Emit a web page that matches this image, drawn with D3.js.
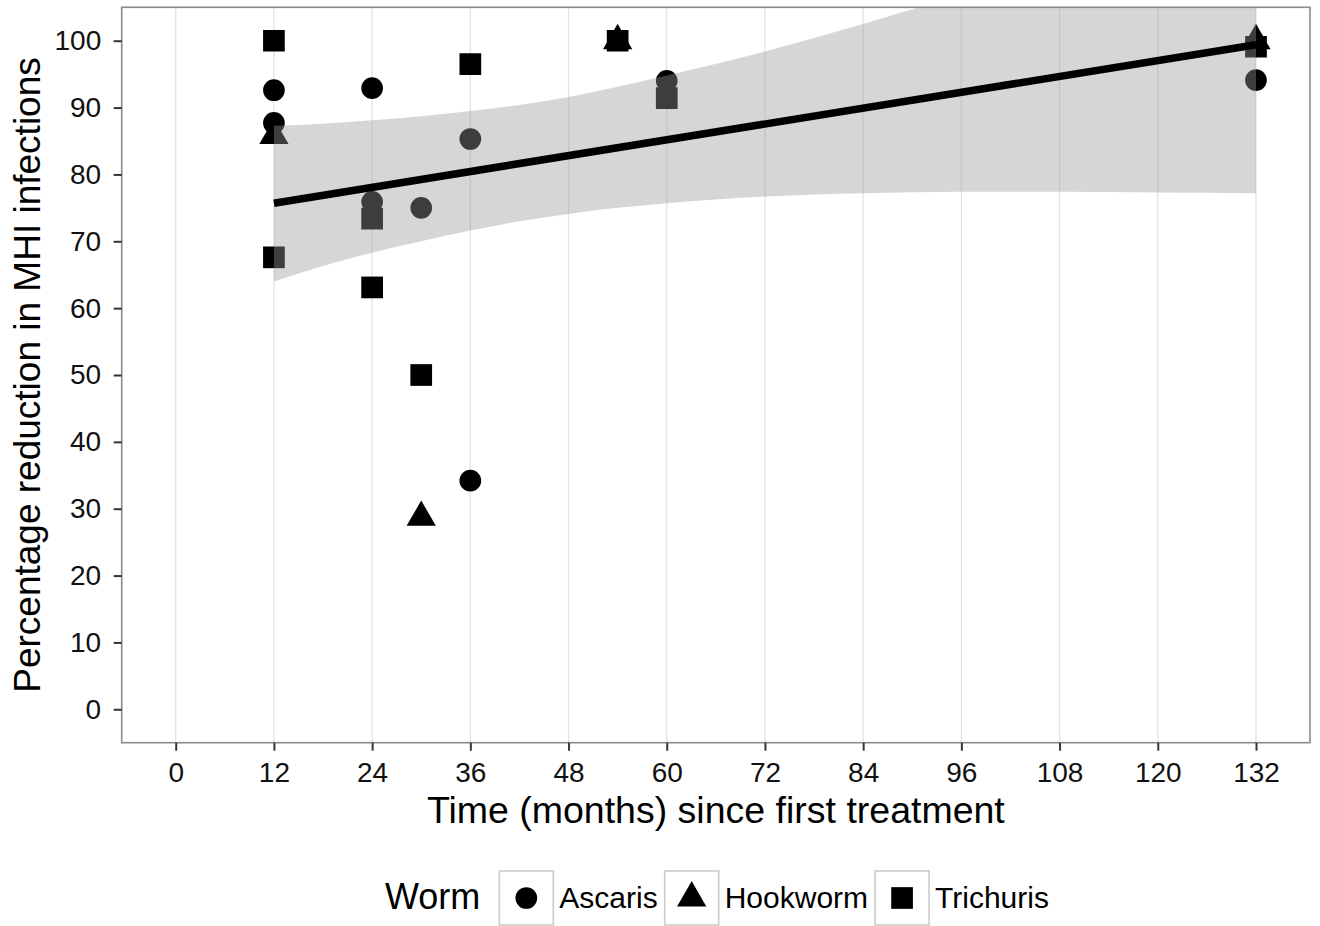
<!DOCTYPE html>
<html>
<head>
<meta charset="utf-8">
<script src="https://cdn.jsdelivr.net/npm/d3@7"></script>
<style>
  html, body { margin: 0; padding: 0; background: #ffffff; }
  svg { display: block; font-family: "Liberation Sans", Arial, sans-serif; }
</style>
</head>
<body>
<svg id="chart" width="1320" height="926"></svg>
<script>
// points (months, % reduction)
const ascarisX = [12, 12, 24, 24, 30, 36, 36, 60, 132];
const ascarisY = [92.6, 87.7, 92.9, 75.9, 75.0, 85.3, 34.2, 94.0, 94.1];
const hookwormX = [12, 30, 54, 132];
const hookwormY = [85.8, 28.7, 100, 100];
const trichurisX = [12, 12, 24, 24, 30, 36, 54, 60, 132];
const trichurisY = [100, 67.6, 73.4, 63.1, 50.0, 96.5, 100, 91.4, 99.1];

// fitted line and confidence band
const fitX = [12, 132];
const fitY = [75.7, 99.4];
const bandX = [12, 18, 24, 30, 36, 42, 48, 54, 60, 72, 84, 96, 108, 120, 132];
const bandLow = [64.0, 66.3, 68.3, 70.0, 71.6, 73.0, 74.1, 75.0, 75.7, 76.7, 77.2, 77.4, 77.4, 77.3, 77.2];
const bandHigh = [87.3, 87.6, 88.1, 88.7, 89.5, 90.4, 91.6, 93.1, 94.8, 98.4, 102.5, 107.0, 112.0, 117.0, 121.6];

const xTicks = [0, 12, 24, 36, 48, 60, 72, 84, 96, 108, 120, 132];
const yTicks = [0, 10, 20, 30, 40, 50, 60, 70, 80, 90, 100];
const worms = ['Ascaris', 'Hookworm', 'Trichuris'];

const svg = d3.select('#chart');
const panel = { left: 121.7, right: 1310, top: 7.3, bottom: 742.7 };

const x = d3.scaleLinear().domain([-6.6, 138.6]).range([panel.left, panel.right]);
const y = d3.scaleLinear().domain([-5, 105]).range([panel.bottom, panel.top]);

const shapes = {
  Ascaris: d3.symbol().type(d3.symbolCircle).size(370),
  Hookworm: d3.symbol().type(d3.symbolTriangle).size(370),
  Trichuris: d3.symbol().type(d3.symbolSquare).size(471),
};

const points = [
  ...ascarisX.map((m, i) => ({ worm: 'Ascaris', m, v: ascarisY[i] })),
  ...hookwormX.map((m, i) => ({ worm: 'Hookworm', m, v: hookwormY[i] })),
  ...trichurisX.map((m, i) => ({ worm: 'Trichuris', m, v: trichurisY[i] })),
];

svg.append('defs').append('clipPath').attr('id', 'panel-clip')
  .append('rect')
  .attr('x', panel.left).attr('y', panel.top)
  .attr('width', panel.right - panel.left).attr('height', panel.bottom - panel.top);

const plot = svg.append('g').attr('clip-path', 'url(#panel-clip)');

// vertical grid only
plot.append('g').selectAll('line').data(xTicks).join('line')
  .attr('x1', d => x(d)).attr('x2', d => x(d))
  .attr('y1', panel.top).attr('y2', panel.bottom)
  .attr('stroke', '#e3e3e3').attr('stroke-width', 1.3);

plot.append('g').selectAll('path').data(points).join('path')
  .attr('transform', d => `translate(${x(d.m)},${y(d.v)})`)
  .attr('d', d => shapes[d.worm]())
  .attr('fill', '#000');

const band = d3.area()
  .x((d, i) => x(bandX[i]))
  .y0((d, i) => y(bandLow[i]))
  .y1((d, i) => y(bandHigh[i]))
  .curve(d3.curveMonotoneX);

plot.append('path').datum(bandX)
  .attr('d', band)
  .attr('fill', '#999999')
  .attr('fill-opacity', 0.4);

plot.append('path').datum(fitX.map((m, i) => [m, fitY[i]]))
  .attr('d', d3.line().x(d => x(d[0])).y(d => y(d[1])))
  .attr('fill', 'none')
  .attr('stroke', '#000')
  .attr('stroke-width', 7.5);

svg.append('rect')
  .attr('x', panel.left).attr('y', panel.top)
  .attr('width', panel.right - panel.left).attr('height', panel.bottom - panel.top)
  .attr('fill', 'none').attr('stroke', '#8a8a8a').attr('stroke-width', 1.6);

function styleAxis(g) {
  g.select('.domain').remove();
  g.selectAll('line').attr('stroke', '#333').attr('stroke-width', 2);
  g.selectAll('text').attr('fill', '#111').attr('font-size', 28)
    .attr('font-family', '"Liberation Sans", Arial, sans-serif');
}

svg.append('g')
  .attr('transform', `translate(0,${panel.bottom})`)
  .call(d3.axisBottom(x).tickValues(xTicks).tickSize(8).tickPadding(11))
  .call(styleAxis);

svg.append('g')
  .attr('transform', `translate(${panel.left},0)`)
  .call(d3.axisLeft(y).tickValues(yTicks).tickSize(8).tickPadding(12.5))
  .call(styleAxis);

svg.append('text')
  .attr('x', (panel.left + panel.right) / 2)
  .attr('y', 823)
  .attr('text-anchor', 'middle')
  .attr('font-size', 37.5)
  .attr('fill', '#000')
  .text('Time (months) since first treatment');

svg.append('text')
  .attr('transform', `translate(40,${(panel.top + panel.bottom) / 2}) rotate(-90)`)
  .attr('text-anchor', 'middle')
  .attr('font-size', 37)
  .attr('fill', '#000')
  .text('Percentage reduction in MHI infections');

// legend
const legend = svg.append('g');
const title = legend.append('text')
  .attr('x', 385).attr('y', 909)
  .attr('font-size', 36).attr('fill', '#000')
  .text('Worm');

let cx = 385 + title.node().getComputedTextLength() + 19;
const keySize = 54;
worms.forEach(w => {
  legend.append('rect')
    .attr('x', cx).attr('y', 871)
    .attr('width', keySize).attr('height', keySize)
    .attr('fill', '#fff').attr('stroke', '#cccccc').attr('stroke-width', 1.6);
  legend.append('path')
    .attr('transform', `translate(${cx + keySize / 2},${871 + keySize / 2})`)
    .attr('d', shapes[w]())
    .attr('fill', '#000');
  const t = legend.append('text')
    .attr('x', cx + keySize + 6).attr('y', 908)
    .attr('font-size', 30).attr('fill', '#000')
    .text(w);
  cx += keySize + 6 + t.node().getComputedTextLength() + 7;
});
</script>
</body>
</html>
